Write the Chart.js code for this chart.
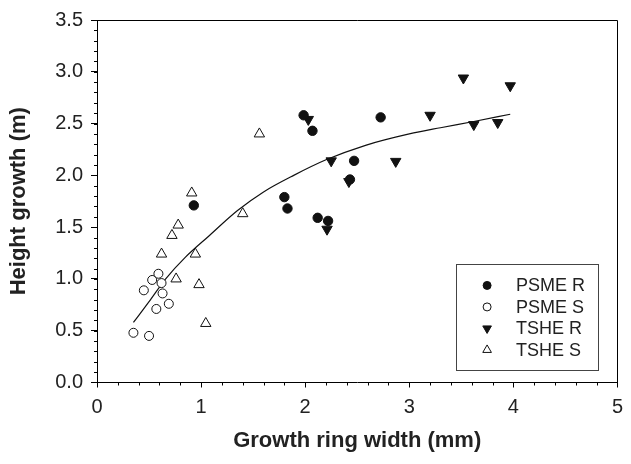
<!DOCTYPE html>
<html>
<head>
<meta charset="utf-8">
<script src="https://cdn.jsdelivr.net/npm/chart.js@4.4.1/dist/chart.umd.min.js"></script>
<style>
    html, body { margin: 0; padding: 0; background: #fff; }
    #wrap { width: 631px; height: 464px; }
</style>
</head>
<body>
<div id="wrap"><canvas id="growthChart" width="631" height="464"></canvas></div>
<script>
// Values
// PSME R (filled circles)
const psmeRx = [0.93, 1.985, 2.07, 2.47, 2.43, 1.80, 1.83, 2.12, 2.22, 2.725];
const psmeRy = [1.71, 2.58, 2.43, 2.14, 1.96, 1.79, 1.68, 1.59, 1.56, 2.56];

// PSME S (open circles)
const psmeSx = [0.35, 0.50, 0.45, 0.53, 0.59, 0.62, 0.63, 0.69, 0.57];
const psmeSy = [0.48, 0.45, 0.89, 0.99, 1.05, 0.96, 0.86, 0.76, 0.71];

// TSHE R (filled down triangles)
const tsheRx = [2.03, 2.25, 2.42, 2.21, 2.87, 3.20, 3.52, 3.62, 3.85, 3.97];
const tsheRy = [2.54, 2.14, 1.94, 1.48, 2.135, 2.58, 2.94, 2.49, 2.51, 2.865];

// TSHE S (open up triangles)
const tsheSx = [0.91, 0.78, 0.72, 0.62, 0.945, 0.76, 0.98, 1.045, 1.40, 1.56];
const tsheSy = [1.83, 1.52, 1.42, 1.24, 1.24, 1.00, 0.945, 0.57, 1.63, 2.40];

// fitted curve
const fitX = [0.35, 0.50, 0.66, 0.85, 1.07, 1.35, 1.60, 1.89, 2.20, 2.58, 3.00, 3.30, 3.62, 3.97];
const fitY = [0.58, 0.78, 1.00, 1.21, 1.41, 1.66, 1.84, 2.00, 2.15, 2.29, 2.40, 2.46, 2.52, 2.59];

const seriesNames = ['PSME R', 'PSME S', 'TSHE R', 'TSHE S'];

const xTitle = 'Growth ring width (mm)';
const yTitle = 'Height growth (m)';

function toPoints(xs, ys) {
    return xs.map((x, i) => ({ x: x, y: ys[i] }));
}

const ink = '#111';
const textColor = '#222';

// top/right frame, minor ticks and the boxed legend
const extras = {
    id: 'extras',
    afterDraw(chart) {
        const { ctx, chartArea: a, scales: { x, y } } = chart;
        ctx.save();
        ctx.strokeStyle = '#000';
        ctx.lineWidth = 1;

        ctx.beginPath();
        ctx.moveTo(a.left, Math.round(a.top) + 0.5);
        ctx.lineTo(Math.round(a.right) + 0.5, Math.round(a.top) + 0.5);
        ctx.lineTo(Math.round(a.right) + 0.5, a.bottom);
        ctx.stroke();

        // minor ticks
        ctx.beginPath();
        for (let v = 0.1; v < 3.5; v += 0.1) {
            const py = Math.round(y.getPixelForValue(v)) + 0.5;
            ctx.moveTo(a.left - 3, py);
            ctx.lineTo(a.left, py);
        }
        for (let v = 0.2; v < 5; v += 0.2) {
            const px = Math.round(x.getPixelForValue(v)) + 0.5;
            ctx.moveTo(px, a.bottom);
            ctx.lineTo(px, a.bottom + 3);
        }
        ctx.stroke();

        // legend
        const bx = x.getPixelForValue(3.45), by = y.getPixelForValue(1.14);
        const bw = 142, bh = 106;
        ctx.strokeStyle = '#444';
        ctx.fillStyle = '#fff';
        ctx.fillRect(bx, by, bw, bh);
        ctx.strokeRect(Math.round(bx) + 0.5, Math.round(by) + 0.5, bw, bh);

        ctx.font = '18px "Liberation Sans", Arial, sans-serif';
        ctx.textBaseline = 'middle';
        ctx.textAlign = 'left';
        chart.data.datasets.slice(0, 4).forEach((ds, i) => {
            const cy = by + 21 + i * 21.5;
            const cx = bx + 31;
            ctx.fillStyle = ds.pointBackgroundColor;
            ctx.strokeStyle = ink;
            ctx.beginPath();
            if (ds.pointStyle === 'circle') {
                ctx.arc(cx, cy, 4, 0, Math.PI * 2);
            } else {
                const r = 5;
                const s = ds.pointRotation === 180 ? -1 : 1;
                ctx.moveTo(cx, cy - s * r);
                ctx.lineTo(cx + r * 0.866, cy + s * r / 2);
                ctx.lineTo(cx - r * 0.866, cy + s * r / 2);
                ctx.closePath();
            }
            ctx.fill();
            ctx.stroke();
            ctx.fillStyle = textColor;
            ctx.fillText(seriesNames[i], bx + 60, cy + 1);
        });
        ctx.restore();
    }
};

const ctx = document.getElementById('growthChart').getContext('2d');

const growthChart = new Chart(ctx, {
    type: 'scatter',
    data: {
        datasets: [{
            label: seriesNames[0],
            data: toPoints(psmeRx, psmeRy),
            pointStyle: 'circle',
            pointRadius: 4.7,
            pointBackgroundColor: ink,
            pointBorderColor: ink,
            pointBorderWidth: 1
        }, {
            label: seriesNames[1],
            data: toPoints(psmeSx, psmeSy),
            pointStyle: 'circle',
            pointRadius: 4.5,
            pointBackgroundColor: '#fff',
            pointBorderColor: ink,
            pointBorderWidth: 1
        }, {
            label: seriesNames[2],
            data: toPoints(tsheRx, tsheRy),
            pointStyle: 'triangle',
            pointRotation: 180,
            pointRadius: 6,
            pointBackgroundColor: ink,
            pointBorderColor: ink,
            pointBorderWidth: 1
        }, {
            label: seriesNames[3],
            data: toPoints(tsheSx, tsheSy),
            pointStyle: 'triangle',
            pointRadius: 6,
            pointBackgroundColor: '#fff',
            pointBorderColor: ink,
            pointBorderWidth: 1
        }, {
            type: 'line',
            label: 'fit',
            data: toPoints(fitX, fitY),
            borderColor: ink,
            borderWidth: 1.2,
            pointRadius: 0,
            fill: false,
            cubicInterpolationMode: 'monotone'
        }]
    },
    options: {
        responsive: false,
        animation: false,
        devicePixelRatio: 1,
        layout: {
            padding: { left: 0, right: 5, top: 15, bottom: 0 }
        },
        plugins: {
            legend: { display: false },
            tooltip: { enabled: false }
        },
        scales: {
            x: {
                type: 'linear',
                min: 0,
                max: 5,
                afterFit: function (scale) { scale.height = 81.5; },
                ticks: {
                    stepSize: 1,
                    color: textColor,
                    padding: 8,
                    maxRotation: 0,
                    font: { family: '"Liberation Sans", Arial, sans-serif', size: 20 }
                },
                grid: {
                    drawOnChartArea: false,
                    drawTicks: true,
                    tickLength: 5,
                    color: '#000'
                },
                border: { display: true, color: '#000', width: 1 },
                title: {
                    display: true,
                    text: xTitle,
                    color: textColor,
                    padding: { top: 0, bottom: 10 },
                    font: { family: '"Liberation Sans", Arial, sans-serif', size: 22, weight: 'bold' }
                }
            },
            y: {
                type: 'linear',
                min: 0,
                max: 3.5,
                afterFit: function (scale) { scale.width = 97; },
                ticks: {
                    stepSize: 0.5,
                    color: textColor,
                    padding: 8,
                    font: { family: '"Liberation Sans", Arial, sans-serif', size: 20 },
                    callback: function (value) { return value.toFixed(1); }
                },
                grid: {
                    drawOnChartArea: false,
                    drawTicks: true,
                    tickLength: 6,
                    color: '#000'
                },
                border: { display: true, color: '#000', width: 1 },
                title: {
                    display: true,
                    text: yTitle,
                    color: textColor,
                    padding: { top: 6, bottom: 0 },
                    font: { family: '"Liberation Sans", Arial, sans-serif', size: 22, weight: 'bold' }
                }
            }
        }
    },
    plugins: [extras]
});
</script>
</body>
</html>
